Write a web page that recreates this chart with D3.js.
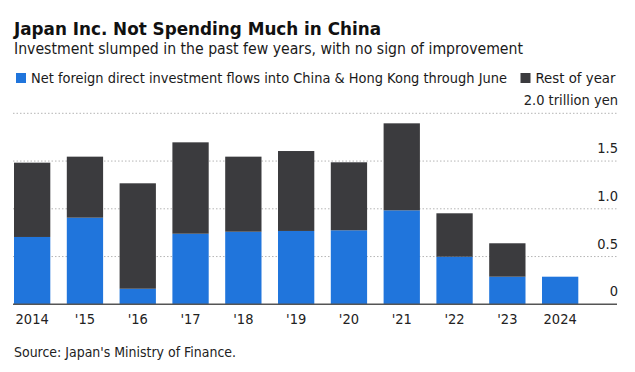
<!DOCTYPE html>
<html>
<head>
<meta charset="utf-8">
<script src="https://cdnjs.cloudflare.com/ajax/libs/d3/7.8.5/d3.min.js"></script>
<style>
  body { margin: 0; background: #fff; }
  svg text { font-family: "DejaVu Sans Condensed", "DejaVu Sans", sans-serif; }
</style>
</head>
<body>
<svg id="chart" width="635" height="372"></svg>
<script>
// chart data (trillion yen)
var years = ['2014', "'15", "'16", "'17", "'18", "'19", "'20", "'21", "'22", "'23", '2024'];
var throughJune = [0.705, 0.907, 0.163, 0.739, 0.760, 0.768, 0.775, 0.984, 0.498, 0.289, 0.289];
var restOfYear = [0.778, 0.639, 1.104, 0.957, 0.786, 0.837, 0.712, 0.911, 0.455, 0.350, 0];
var yTicks = [0, 0.5, 1.0, 1.5, 2.0];

var blue = '#2075dc', dark = '#3b3b3e';

var svg = d3.select('#chart');

var x = d3.scaleBand()
  .domain(years)
  .range([14, 578.3])
  .paddingInner(0.3125)
  .paddingOuter(0);

var y = d3.scaleLinear().domain([0, 2]).range([304.3, 113.3]);

var rows = years.map((yr, i) => ({ year: yr, first: throughJune[i], rest: restOfYear[i] }));
var stacked = d3.stack().keys(['first', 'rest'])(rows);

// header texts
svg.append('text')
  .attr('x', 14).attr('y', 35)
  .attr('font-size', 17).attr('font-weight', 'bold').attr('fill', '#111')
  .attr('textLength', 367).attr('lengthAdjust', 'spacingAndGlyphs')
  .text('Japan Inc. Not Spending Much in China');

svg.append('text')
  .attr('x', 14).attr('y', 54)
  .attr('font-size', 15).attr('fill', '#1a1a1a')
  .attr('textLength', 509).attr('lengthAdjust', 'spacingAndGlyphs')
  .text('Investment slumped in the past few years, with no sign of improvement');

// legend
var legend = [
  { label: 'Net foreign direct investment flows into China & Hong Kong through June', color: blue, x: 16, len: 476 },
  { label: 'Rest of year', color: dark, x: 520.5, len: 80 }
];
var lg = svg.append('g').selectAll('g').data(legend).enter().append('g');
lg.append('rect')
  .attr('x', d => d.x).attr('y', 73)
  .attr('width', 10).attr('height', 10)
  .attr('fill', d => d.color);
lg.append('text')
  .attr('x', d => d.x + 15).attr('y', 83)
  .attr('font-size', 14.5).attr('fill', '#1a1a1a')
  .attr('textLength', d => d.len).attr('lengthAdjust', 'spacingAndGlyphs')
  .text(d => d.label);

// gridlines
svg.append('g').selectAll('line').data(yTicks.filter(t => t > 0)).enter()
  .append('line')
  .attr('x1', 13).attr('x2', 617)
  .attr('y1', d => y(d)).attr('y2', d => y(d))
  .attr('stroke', '#b5b5b5').attr('stroke-width', 1)
  .attr('stroke-dasharray', '1.5,2');

// y labels on the right, above each gridline
svg.append('g').selectAll('text').data(yTicks).enter()
  .append('text')
  .attr('x', 618).attr('y', d => y(d) - 8)
  .attr('text-anchor', 'end')
  .attr('font-size', 14.5).attr('fill', '#222')
  .text(d => d === 0 ? '0' : d === 2 ? '2.0 trillion yen' : d3.format('.1f')(d));

// bars
svg.append('g').selectAll('g').data(stacked).enter()
  .append('g')
  .attr('fill', (d, i) => i === 0 ? blue : dark)
  .selectAll('rect').data(d => d).enter()
  .append('rect')
  .attr('x', d => x(d.data.year))
  .attr('width', x.bandwidth())
  .attr('y', d => y(d[1]))
  .attr('height', d => y(d[0]) - y(d[1]));

// baseline
svg.append('line')
  .attr('x1', 13).attr('x2', 617)
  .attr('y1', y(0)).attr('y2', y(0))
  .attr('stroke', '#555').attr('stroke-width', 1.5);

// x axis labels
var xAxis = svg.append('g')
  .attr('transform', 'translate(0,' + y(0) + ')')
  .call(d3.axisBottom(x).tickSize(0).tickPadding(9));
xAxis.select('.domain').remove();
xAxis.selectAll('text')
  .attr('font-size', 14.5).attr('fill', '#222')
  .style('font-family', '"DejaVu Sans Condensed", "DejaVu Sans", sans-serif');

// source
svg.append('text')
  .attr('x', 14).attr('y', 357)
  .attr('font-size', 14).attr('fill', '#222')
  .attr('textLength', 222).attr('lengthAdjust', 'spacingAndGlyphs')
  .text("Source: Japan's Ministry of Finance.");
</script>
</body>
</html>
